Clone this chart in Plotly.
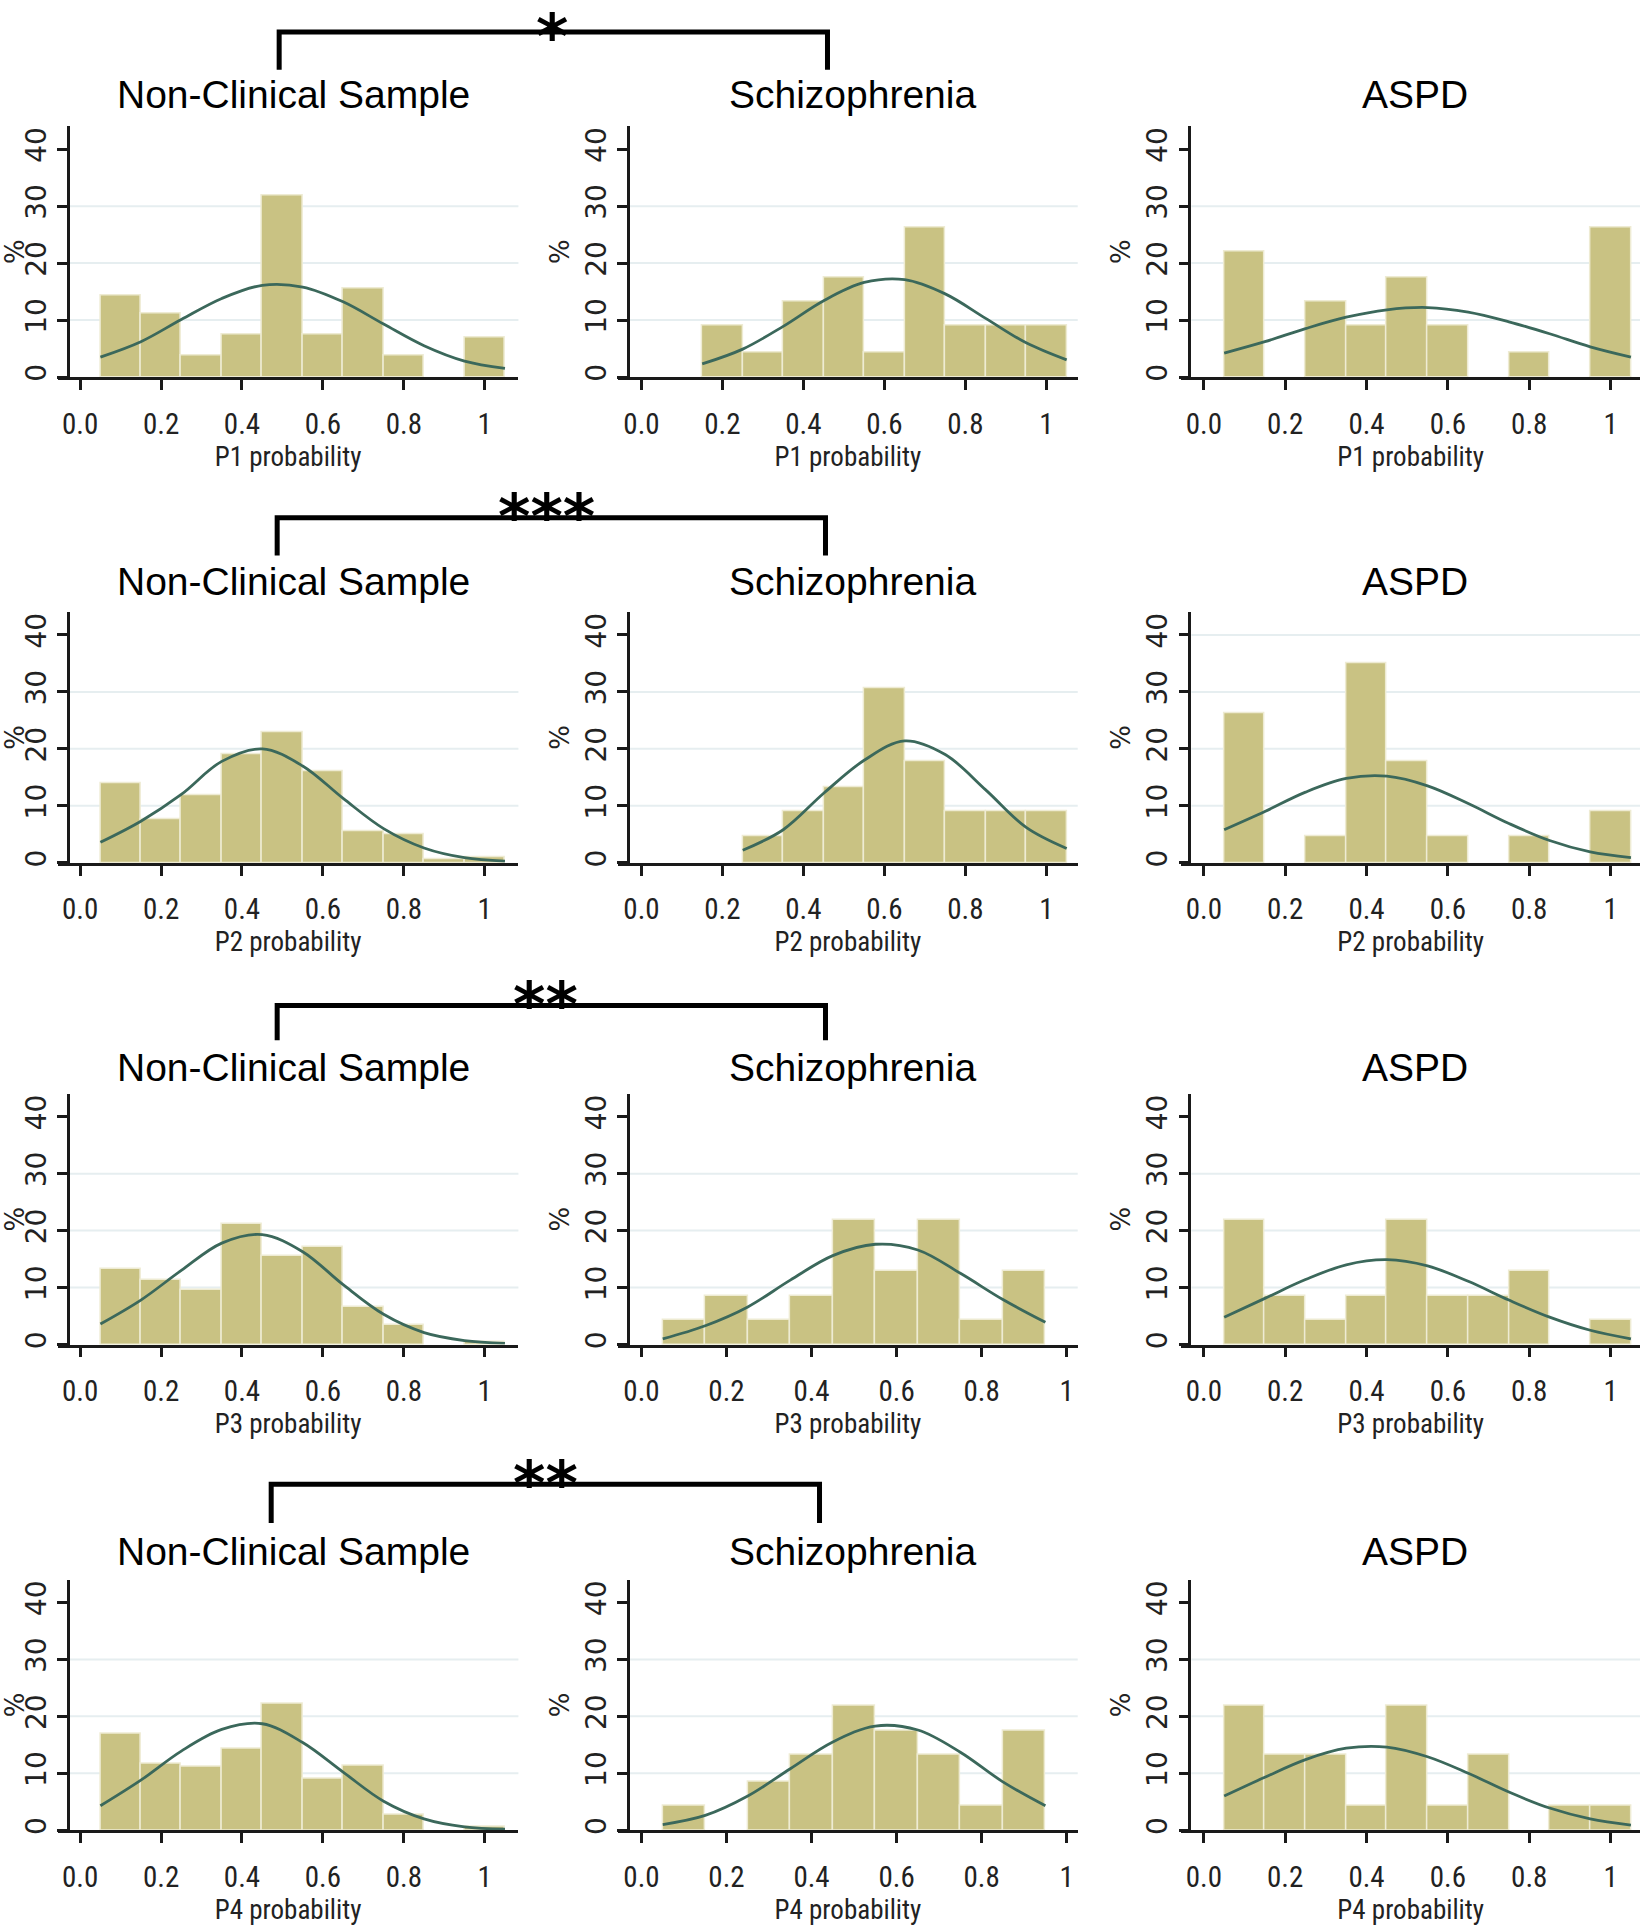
import plotly.graph_objects as go

# ---------------- data ----------------
groups = ["Non-Clinical Sample", "Schizophrenia", "ASPD"]
profiles = ["P1", "P2", "P3", "P4"]
significance = ["*", "***", "**", "**"]

x_tick_vals = [0, 0.2, 0.4, 0.6, 0.8, 1]
x_tick_text = ["0.0", "0.2", "0.4", "0.6", "0.8", "1"]
y_tick_vals = [0, 10, 20, 30, 40]

bin_centers = [0.1, 0.2, 0.3, 0.4, 0.5, 0.6, 0.7, 0.8, 0.9, 1.0]

# bar heights (%) per bin; None = empty bin
p1_nonclinical = [14.4, 11.1, 3.8, 7.5, 31.8, 7.5, 15.5, 3.8, None, 7.0]
p1_schizophrenia = [None, 9.0, 4.4, 13.3, 17.5, 4.4, 26.3, 9.0, 9.0, 9.0]
p1_aspd = [22.0, None, 13.2, 9.0, 17.5, 9.0, None, 4.4, None, 26.3]

p2_nonclinical = [13.9, 7.6, 11.8, 19.0, 22.9, 16.1, 5.6, 5.0, 0.7, 1.0]
p2_schizophrenia = [None, None, 4.6, 9.0, 13.2, 30.6, 17.8, 9.0, 9.0, 9.0]
p2_aspd = [26.3, None, 4.6, 35.0, 17.8, 4.6, None, 4.6, None, 9.0]

p3_nonclinical = [13.3, 11.3, 9.6, 21.2, 15.5, 17.1, 6.6, 3.5, None, 0.5]
p3_schizophrenia = [4.4, 8.6, 4.4, 8.6, 21.8, 12.9, 21.8, 4.4, 12.9, None]
p3_aspd = [21.8, 8.6, 4.4, 8.6, 21.8, 8.6, 8.6, 12.9, None, 4.4]

p4_nonclinical = [17.0, 11.7, 11.2, 14.4, 22.3, 9.1, 11.3, 2.8, None, 0.6]
p4_schizophrenia = [4.4, None, 8.6, 13.2, 21.8, 17.5, 13.2, 4.4, 17.5, None]
p4_aspd = [21.8, 13.2, 13.2, 4.4, 21.8, 4.4, 13.2, None, 4.4, 4.4]

# normal-density overlay, read at bin edges
curve_x_full = [0.05, 0.15, 0.25, 0.35, 0.45, 0.55, 0.65, 0.75, 0.85, 0.95, 1.05]
curve_x_from_015 = [0.15, 0.25, 0.35, 0.45, 0.55, 0.65, 0.75, 0.85, 0.95, 1.05]
curve_x_from_025 = [0.25, 0.35, 0.45, 0.55, 0.65, 0.75, 0.85, 0.95, 1.05]
curve_x_to_095 = [0.05, 0.15, 0.25, 0.35, 0.45, 0.55, 0.65, 0.75, 0.85, 0.95]

c1_nonclinical = [3.5, 6.2, 10.1, 13.8, 16.1, 15.8, 13.2, 9.3, 5.5, 2.8, 1.5]
c1_schizophrenia = [2.3, 4.9, 8.9, 13.4, 16.6, 17.1, 14.6, 10.3, 6.0, 3.0]
c1_aspd = [4.2, 6.2, 8.5, 10.5, 11.8, 12.2, 11.4, 9.7, 7.6, 5.3, 3.5]

c2_nonclinical = [3.6, 7.3, 12.0, 17.8, 20.0, 17.0, 11.3, 6.0, 2.6, 0.9, 0.3]
c2_schizophrenia = [2.2, 5.8, 12.2, 18.0, 21.4, 19.0, 12.8, 6.2, 2.5]
c2_aspd = [5.8, 9.0, 12.4, 14.8, 15.2, 13.5, 10.4, 6.9, 3.9, 1.9, 0.9]

c3_nonclinical = [3.6, 7.8, 13.0, 17.8, 19.3, 16.3, 10.5, 5.3, 2.1, 0.7, 0.2]
c3_schizophrenia = [1.0, 3.3, 6.6, 11.3, 15.6, 17.6, 16.6, 12.5, 7.9, 3.9]
c3_aspd = [4.8, 8.1, 11.4, 14.0, 14.9, 13.8, 11.1, 7.8, 4.8, 2.5, 1.0]

c4_nonclinical = [4.3, 8.8, 13.9, 17.7, 18.7, 15.4, 10.2, 5.1, 2.0, 0.6, 0.2]
c4_schizophrenia = [1.0, 2.6, 6.0, 10.8, 15.5, 18.3, 17.6, 13.7, 8.5, 4.3]
c4_aspd = [6.0, 9.3, 12.4, 14.4, 14.6, 12.9, 10.0, 6.7, 3.9, 2.0, 0.9]

panels = [
    [(p1_nonclinical, curve_x_full, c1_nonclinical),
     (p1_schizophrenia, curve_x_from_015, c1_schizophrenia),
     (p1_aspd, curve_x_full, c1_aspd)],
    [(p2_nonclinical, curve_x_full, c2_nonclinical),
     (p2_schizophrenia, curve_x_from_025, c2_schizophrenia),
     (p2_aspd, curve_x_full, c2_aspd)],
    [(p3_nonclinical, curve_x_full, c3_nonclinical),
     (p3_schizophrenia, curve_x_to_095, c3_schizophrenia),
     (p3_aspd, curve_x_full, c3_aspd)],
    [(p4_nonclinical, curve_x_full, c4_nonclinical),
     (p4_schizophrenia, curve_x_to_095, c4_schizophrenia),
     (p4_aspd, curve_x_full, c4_aspd)],
]

# ---------------- layout / style ----------------
W, H = 1643, 1929
BAR_COLOR = "#c9c283"
BAR_EDGE = "#eeebd3"
CURVE_COLOR = "#3b685b"
GRID_COLOR = "#e6eef0"
AXIS_COLOR = "#1a1a1a"
TICK_FONT_COLOR = "#222222"
NARROW = ("Liberation Sans Narrow, Arial Narrow, Roboto Condensed, "
          "DejaVu Sans Condensed, Liberation Sans, Arial, sans-serif")
WIDE = "DejaVu Sans, Verdana, sans-serif"
TITLE_FONT = "Liberation Sans, Arial, Helvetica, sans-serif"

# per column: x-axis line start, y-axis x, pixel of x=0, px per unit, right edge
col_geom = [(53, 63, 75.4, 405.8, 515),
            (615, 625, 638.4, 406.2, 1076),
            (1180, 1188, 1202.5, 408.0, 1640)]
col_geom_short = (615, 625, 638.4, 426.5, 1076)   # schizophrenia P3 / P4
row_zero_px = [378, 865, 1348, 1835]
px_per_pct = 5.71
y_top = 44
title_y_px = [95, 583, 1070, 1556]
# (horizontal line y, leg bottom y, left x, right x, star x, star centre y)
brackets = [(32, 70, 275, 825, 549, 37), (519, 557, 273, 823, 543, 518),
            (1008, 1043, 273, 823, 542, 1007), (1488, 1527, 267, 817, 542, 1487)]


def fx(px):
    return px / W


def fy(px):
    return 1 - px / H


fig = go.Figure()
shapes = []
annotations = []
layout_axes = {}

for r in range(4):
    for c in range(3):
        i = r * 3 + c + 1
        bars, cx, cy = panels[r][c]
        left, yax, t0, s, right = col_geom[c]
        if c == 1 and r >= 2:
            left, yax, t0, s, right = col_geom_short
        y0 = row_zero_px[r]
        ytop_px = y0 - y_top * px_per_pct
        xa = "x" if i == 1 else f"x{i}"
        ya = "y" if i == 1 else f"y{i}"

        fig.add_trace(go.Bar(
            x=bin_centers, y=bars, width=0.1,
            marker=dict(color=BAR_COLOR, line=dict(color=BAR_EDGE, width=1.5)),
            xaxis=xa, yaxis=ya, showlegend=False, hoverinfo="skip"))
        fig.add_trace(go.Scatter(
            x=cx, y=cy, mode="lines",
            line=dict(color=CURVE_COLOR, width=2.8, shape="spline", smoothing=1.0),
            xaxis=xa, yaxis=ya, showlegend=False, hoverinfo="skip"))

        layout_axes["xaxis" if i == 1 else f"xaxis{i}"] = dict(
            domain=[fx(left), fx(right)],
            range=[(left - t0) / s, (right - t0) / s],
            anchor=ya, showline=True, linecolor=AXIS_COLOR, linewidth=2.5,
            ticks="outside", ticklen=10, tickwidth=2.5, tickcolor=AXIS_COLOR,
            tickvals=x_tick_vals, ticktext=x_tick_text,
            tickfont=dict(family=NARROW, size=29, color=TICK_FONT_COLOR),
            ticklabelstandoff=9,
            title=dict(text=f"{profiles[r]} probability",
                       font=dict(family=NARROW, size=27, color=TICK_FONT_COLOR),
                       standoff=0),
            showgrid=False, zeroline=False, fixedrange=True)
        layout_axes["yaxis" if i == 1 else f"yaxis{i}"] = dict(
            domain=[fy(y0), fy(ytop_px)], range=[0, y_top],
            anchor="free", position=fx(yax),
            showline=True, linecolor=AXIS_COLOR, linewidth=2.5,
            ticks="outside", ticklen=10, tickwidth=2.5, tickcolor=AXIS_COLOR,
            tickvals=y_tick_vals, tickangle=-90,
            tickfont=dict(family=WIDE, size=28, color=TICK_FONT_COLOR),
            title=dict(text="%", font=dict(family=WIDE, size=26, color=TICK_FONT_COLOR),
                       standoff=2),
            showgrid=False, zeroline=False, fixedrange=True)

        grid_levels = [10, 20, 30] + ([40] if (r == 1 and c == 2) else [])
        for g in grid_levels:
            shapes.append(dict(type="line", xref="paper", yref=ya,
                               x0=fx(yax + 2), x1=fx(right), y0=g, y1=g,
                               line=dict(color=GRID_COLOR, width=2), layer="below"))

        annotations.append(dict(text=groups[c], xref="paper", yref="paper",
                                x=fx((yax + right) / 2), y=fy(title_y_px[r]),
                                xanchor="center", yanchor="middle", showarrow=False,
                                font=dict(family=TITLE_FONT, size=39, color="black")))

for r in range(4):
    yl, yleg, xl, xr_, xs, ys = brackets[r]
    shapes.append(dict(type="path", xref="paper", yref="paper",
                       path=f"M {fx(xl)},{fy(yleg)} L {fx(xl)},{fy(yl)} L {fx(xr_)},{fy(yl)} L {fx(xr_)},{fy(yleg)}",
                       line=dict(color="black", width=5)))
    annotations.append(dict(text=significance[r], xref="paper", yref="paper",
                            x=fx(xs), y=fy(ys), xanchor="center", yanchor="middle",
                            showarrow=False,
                            font=dict(family="DejaVu Sans, sans-serif", size=62,
                                      color="black", weight="bold")))

fig.update_layout(
    width=W, height=H, autosize=False,
    margin=dict(l=0, r=0, t=0, b=0),
    paper_bgcolor="white", plot_bgcolor="rgba(0,0,0,0)",
    bargap=0, barmode="overlay",
    shapes=shapes, annotations=annotations,
    **layout_axes)

fig.write_html("out.html", config={"displayModeBar": False},
               post_script="document.body.style.margin='0';document.body.style.overflow='hidden';")
